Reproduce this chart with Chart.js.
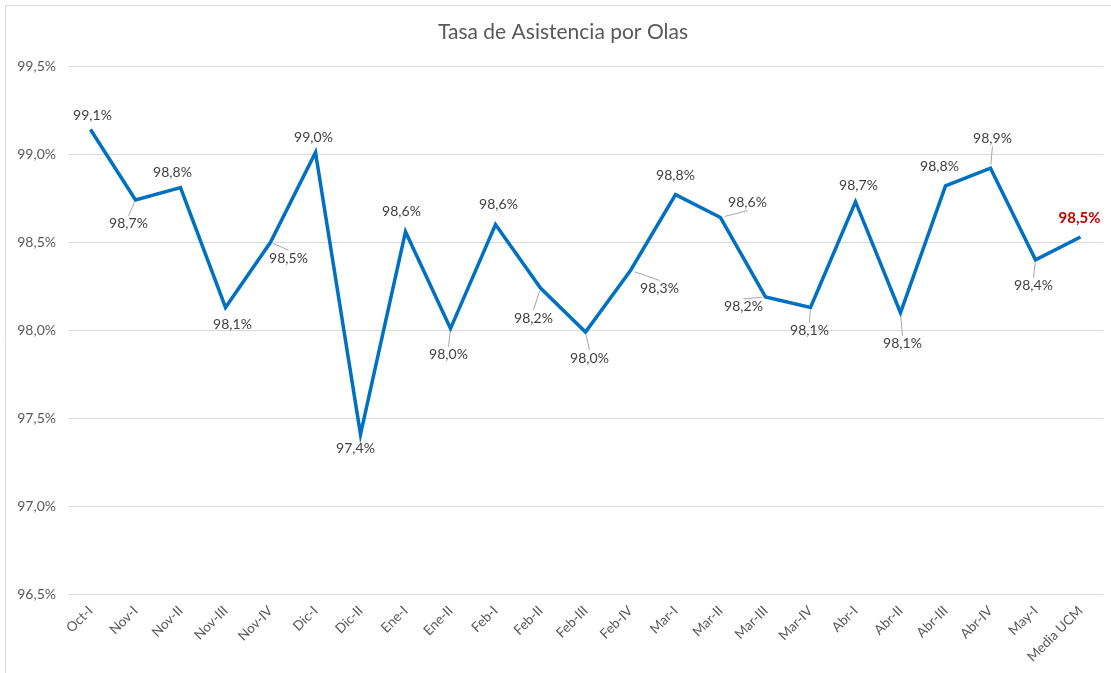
<!DOCTYPE html>
<html>
<head>
<meta charset="utf-8">
<script src="https://cdn.jsdelivr.net/npm/chart.js@4.4.1/dist/chart.umd.min.js"></script>
<style>
  html, body { margin: 0; padding: 0; background: #ffffff; }
  #wrap { position: relative; width: 1111px; height: 673px; }
  canvas { display: block; }
</style>
</head>
<body>
<div id="wrap"><canvas id="c" width="1111" height="673"></canvas></div>
<script>
// ---- Data ----
const categories = ['Oct-I','Nov-I','Nov-II','Nov-III','Nov-IV','Dic-I','Dic-II','Ene-I','Ene-II','Feb-I','Feb-II','Feb-III','Feb-IV','Mar-I','Mar-II','Mar-III','Mar-IV','Abr-I','Abr-II','Abr-III','Abr-IV','May-I','Media UCM'];
const tasaAsistencia = [99.14, 98.74, 98.81, 98.13, 98.50, 99.01, 97.41, 98.56, 98.01, 98.60, 98.24, 97.99, 98.34, 98.77, 98.64, 98.19, 98.13, 98.73, 98.10, 98.82, 98.92, 98.40, 98.53];
const yTicks = [96.5, 97.0, 97.5, 98.0, 98.5, 99.0, 99.5];
const chartTitle = 'Tasa de Asistencia por Olas';

const fmt = v => v.toFixed(1).replace('.', ',') + '%';

// label placement (style only): [dx, dy] relative to point
const labelOffsets = [
  [2,-14],[-7,24],[-8,-15],[7,17],[18,16],[-2,-15],[-5,14],[-4,-20],[-2,26],[3,-20],
  [-7,30],[4,26],[29,18],[0,-19],[27,-15],[-22,10],[-1,23],[3,-16],[2,31],[-6,-19],
  [2,-30],[-2,26],[-1,-19]
];

const frame = {
  id: 'frame',
  beforeDraw(chart) {
    const ctx = chart.ctx;
    ctx.save();
    ctx.strokeStyle = '#d9d9d9';
    ctx.lineWidth = 1;
    ctx.beginPath();
    ctx.moveTo(5.5, 673);
    ctx.lineTo(5.5, 5.5);
    ctx.lineTo(1111, 5.5);
    ctx.stroke();
    ctx.fillStyle = '#595959';
    ctx.font = '21px Lato';
    ctx.textAlign = 'center';
    ctx.textBaseline = 'middle';
    ctx.fillText(chartTitle, 563, 32);
    ctx.restore();
  }
};

const dataLabels = {
  id: 'dataLabels',
  afterDatasetsDraw(chart) {
    const ctx = chart.ctx;
    const meta = chart.getDatasetMeta(0);
    const last = meta.data.length - 1;
    ctx.save();
    ctx.textAlign = 'center';
    ctx.textBaseline = 'middle';
    meta.data.forEach((pt, i) => {
      const [dx, dy] = labelOffsets[i];
      const cx = pt.x + dx, cy = pt.y + dy;
      const dist = Math.hypot(dx, dy);
      if (dist > 21) {
        ctx.strokeStyle = '#a6a6a6';
        ctx.lineWidth = 1;
        ctx.beginPath();
        const ex = cx, ey = cy + (dy > 0 ? -8 : 8);
        ctx.moveTo(pt.x + (ex - pt.x) * 0.15, pt.y + (ey - pt.y) * 0.15);
        ctx.lineTo(ex, ey);
        ctx.stroke();
      }
      if (i === last) {
        ctx.font = 'bold 15px Lato';
        ctx.fillStyle = '#C00000';
      } else {
        ctx.font = '14px Lato';
        ctx.fillStyle = '#404040';
      }
      ctx.fillText(fmt(tasaAsistencia[i]), cx, cy);
    });
    ctx.restore();
  }
};

new Chart(document.getElementById('c'), {
  type: 'line',
  data: {
    labels: categories,
    datasets: [{
      data: tasaAsistencia,
      borderColor: '#0070C0',
      borderWidth: 3.5,
      pointRadius: 0,
      pointHoverRadius: 0,
      tension: 0,
      fill: false
    }]
  },
  options: {
    responsive: false,
    animation: false,
    events: [],
    layout: { padding: { left: 0, right: 8, top: 66, bottom: 0 } },
    plugins: {
      legend: { display: false },
      tooltip: { enabled: false },
      title: { display: false }
    },
    scales: {
      x: {
        offset: true,
        grid: { display: false, drawTicks: false },
        border: { display: false },
        ticks: {
          color: '#595959',
          font: { family: 'Lato', size: 13.5 },
          minRotation: 45,
          maxRotation: 45,
          padding: 8,
          autoSkip: false
        }
      },
      y: {
        min: 96.5,
        max: 99.5,
        afterFit(scale) { scale.width = 68; },
        afterBuildTicks(scale) { scale.ticks = yTicks.map(v => ({ value: v })); },
        grid: { color: '#d9d9d9', lineWidth: 1, drawTicks: false },
        border: { display: false },
        ticks: {
          color: '#595959',
          font: { family: 'Lato', size: 14 },
          padding: 12,
          callback: v => fmt(v)
        }
      }
    }
  },
  plugins: [frame, dataLabels]
});
</script>
</body>
</html>
